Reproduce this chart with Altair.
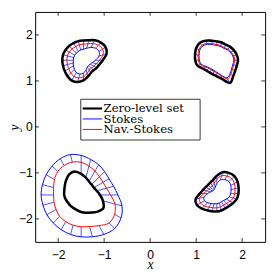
import altair as alt
import numpy as np
import pandas as pd

# ---------------- data ----------------
ANGLES_DEG = [0, 15, 30, 45, 60, 75, 90, 105, 120, 135, 150, 165,
              180, 195, 210, 225, 240, 255, 270, 285, 300, 315, 330, 345]
TICK_VALUES = [-2, -1, 0, 1, 2]
LEGEND_LABELS = ["Zero-level set", "Stokes", "Nav.-Stokes"]
LEGEND_COLORS = ["#000000", "#0000ff", "#ff0000"]
LEGEND_WIDTHS = [2.2, 1.0, 1.0]

# top-left drop (centre, radii at ANGLES_DEG)
TL_CENTER = [-1.45, 1.45]
TL_ZERO = [0.42, 0.52, 0.56, 0.54, 0.50, 0.45, 0.43, 0.43, 0.43, 0.44, 0.45, 0.46,
           0.46, 0.46, 0.47, 0.49, 0.51, 0.49, 0.44, 0.37, 0.32, 0.31, 0.33, 0.36]
TL_NS = [0.35, 0.44, 0.48, 0.46, 0.42, 0.37, 0.35, 0.35, 0.34, 0.35, 0.36, 0.36,
         0.36, 0.36, 0.37, 0.39, 0.41, 0.40, 0.36, 0.30, 0.25, 0.24, 0.26, 0.29]
TL_STOKES = [0.26, 0.35, 0.39, 0.37, 0.32, 0.27, 0.24, 0.23, 0.22, 0.22, 0.22, 0.22,
             0.22, 0.23, 0.25, 0.28, 0.31, 0.31, 0.28, 0.22, 0.17, 0.16, 0.17, 0.20]

# top-right drop
TR_CENTER = [1.45, 1.45]
TR_ZERO = [0.46, 0.45, 0.43, 0.41, 0.39, 0.40, 0.41, 0.44, 0.49, 0.53, 0.52, 0.49,
           0.47, 0.44, 0.36, 0.32, 0.31, 0.32, 0.35, 0.42, 0.57, 0.50, 0.46, 0.45]
TR_NS = [0.39, 0.38, 0.36, 0.34, 0.32, 0.33, 0.34, 0.37, 0.42, 0.46, 0.45, 0.42,
         0.40, 0.37, 0.29, 0.25, 0.24, 0.25, 0.28, 0.35, 0.47, 0.43, 0.39, 0.38]
TR_STOKES = [0.37, 0.36, 0.34, 0.32, 0.30, 0.31, 0.32, 0.35, 0.40, 0.44, 0.43, 0.40,
             0.38, 0.35, 0.27, 0.23, 0.22, 0.23, 0.26, 0.33, 0.44, 0.41, 0.37, 0.36]

# bottom-right drop
BR_CENTER = [1.45, -1.45]
BR_ZERO = [0.47, 0.49, 0.52, 0.54, 0.52, 0.48, 0.39, 0.31, 0.28, 0.27, 0.28, 0.31,
           0.37, 0.48, 0.50, 0.46, 0.42, 0.40, 0.39, 0.38, 0.37, 0.38, 0.41, 0.45]
BR_NS = [0.39, 0.41, 0.44, 0.46, 0.44, 0.40, 0.31, 0.23, 0.20, 0.19, 0.20, 0.23,
         0.29, 0.39, 0.41, 0.38, 0.34, 0.32, 0.31, 0.30, 0.29, 0.30, 0.33, 0.37]
BR_STOKES = [0.30, 0.32, 0.35, 0.37, 0.35, 0.31, 0.22, 0.14, 0.11, 0.10, 0.11, 0.14,
             0.20, 0.29, 0.31, 0.28, 0.25, 0.23, 0.22, 0.21, 0.20, 0.21, 0.24, 0.28]

# bottom-left drop
BL_CENTER = [-1.50, -1.48]
BL_ZERO = [0.41, 0.35, 0.32, 0.32, 0.34, 0.39, 0.46, 0.53, 0.52, 0.46, 0.41, 0.38,
           0.37, 0.35, 0.33, 0.33, 0.33, 0.34, 0.37, 0.40, 0.44, 0.51, 0.56, 0.49]
BL_NS = [0.64, 0.57, 0.55, 0.56, 0.60, 0.65, 0.71, 0.74, 0.74, 0.72, 0.67, 0.62,
         0.60, 0.61, 0.63, 0.66, 0.67, 0.68, 0.69, 0.71, 0.77, 0.86, 0.84, 0.76]
BL_STOKES = [0.80, 0.73, 0.70, 0.72, 0.76, 0.80, 0.86, 0.91, 0.91, 0.89, 0.88, 0.87,
             0.87, 0.86, 0.86, 0.86, 0.87, 0.89, 0.91, 0.94, 0.99, 1.03, 1.00, 0.92]
# inner end of the connecting lines of the bottom-left drop
BL_SPOKE_IN = [0.41, 0.35, 0.32, 0.32, 0.34, 0.39, 0.46, 0.74, 0.74, 0.72, 0.67, 0.62,
               0.60, 0.61, 0.63, 0.66, 0.67, 0.68, 0.69, 0.71, 0.77, 0.86, 0.84, 0.49]

SHAPES = [
    ("TL", TL_CENTER, TL_ZERO, TL_STOKES, TL_NS, TL_ZERO, TL_STOKES),
    ("TR", TR_CENTER, TR_ZERO, TR_STOKES, TR_NS, TR_ZERO, TR_STOKES),
    ("BR", BR_CENTER, BR_ZERO, BR_STOKES, BR_NS, BR_ZERO, BR_STOKES),
    ("BL", BL_CENTER, BL_ZERO, BL_STOKES, BL_NS, BL_SPOKE_IN, BL_STOKES),
]

# ---------------- tables ----------------
rad = np.radians(ANGLES_DEG)
curve_rows, spoke_rows = [], []
for name, c, zero, stokes, ns, sp_a, sp_b in SHAPES:
    for cname, radii in (("zero", zero), ("stokes", stokes), ("ns", ns)):
        for i, (a, r) in enumerate(zip(rad, radii)):
            curve_rows.append(dict(shape=name, curve=cname, order=i,
                                   x=c[0] + r * np.cos(a), y=c[1] + r * np.sin(a)))
    for a, r1, r2 in zip(rad, sp_a, sp_b):
        spoke_rows.append(dict(shape=name,
                               x=c[0] + r1 * np.cos(a), y=c[1] + r1 * np.sin(a),
                               x2=c[0] + r2 * np.cos(a), y2=c[1] + r2 * np.sin(a)))
curves = pd.DataFrame(curve_rows)
spokes = pd.DataFrame(spoke_rows)

W, H = 237, 237
XS = alt.Scale(domain=[-2.5, 2.5], nice=False, zero=False)
YS = alt.Scale(domain=[-2.5, 2.5], nice=False, zero=False)
XA = alt.Axis(values=TICK_VALUES, ticks=False, domain=False, grid=False,
              labelFont="Liberation Sans", labelFontSize=12.5, labelColor="black",
              labelPadding=7, title="x", titleFont="Liberation Serif",
              titleFontStyle="italic", titleFontWeight="normal", titleFontSize=14,
              titleColor="black", titleX=W / 2, titleY=27, titleBaseline="alphabetic")
YA = alt.Axis(values=TICK_VALUES, ticks=False, domain=False, grid=False,
              labelFont="Liberation Sans", labelFontSize=12.5, labelColor="black",
              labelPadding=3, title="y", titleFont="Liberation Serif",
              titleFontStyle="italic", titleFontWeight="normal", titleFontSize=14,
              titleColor="black", titleX=-17, titleY=H / 2, titleAngle=270,
              titleBaseline="alphabetic", titleAlign="center")


def X(f):
    return alt.X(f, type="quantitative", scale=XS, axis=XA)


def Y(f):
    return alt.Y(f, type="quantitative", scale=YS, axis=YA)


spoke_layer = alt.Chart(spokes).mark_rule(color="#0000ff", strokeWidth=0.7).encode(
    x=X("x"), y=Y("y"), x2="x2", y2="y2")


def curve_layer(cname, color, width):
    return alt.Chart(curves[curves.curve == cname]).mark_line(
        interpolate="cardinal-closed", color=color, strokeWidth=width).encode(
        x=X("x"), y=Y("y"), detail="shape:N", order="order:Q")


ticks_x = pd.DataFrame({"x": TICK_VALUES})
ticks_y = pd.DataFrame({"y": TICK_VALUES})
tick_style = dict(color="black", strokeWidth=0.8)
tick_layers = [
    alt.Chart(ticks_x).mark_rule(**tick_style).encode(x=X("x"), y=alt.value(H), y2=alt.value(H - 4)),
    alt.Chart(ticks_x).mark_rule(**tick_style).encode(x=X("x"), y=alt.value(0), y2=alt.value(4)),
    alt.Chart(ticks_y).mark_rule(**tick_style).encode(y=Y("y"), x=alt.value(0), x2=alt.value(4)),
    alt.Chart(ticks_y).mark_rule(**tick_style).encode(y=Y("y"), x=alt.value(W), x2=alt.value(W - 4)),
]

one = pd.DataFrame({"k": [0]})
legend_layers = [
    alt.Chart(one).mark_rect(fill="white", stroke="black", strokeWidth=0.8).encode(
        x=alt.value(47), x2=alt.value(170), y=alt.value(90), y2=alt.value(132))
]
for i, (lab, col, w) in enumerate(zip(LEGEND_LABELS, LEGEND_COLORS, LEGEND_WIDTHS)):
    yy = 99.5 + i * 10.8
    legend_layers.append(alt.Chart(one).mark_rule(color=col, strokeWidth=w).encode(
        x=alt.value(49), x2=alt.value(69), y=alt.value(yy)))
    legend_layers.append(alt.Chart(one).mark_text(
        align="left", baseline="middle", font="DejaVu Serif", fontSize=12,
        color="black", text=lab).encode(x=alt.value(70.5), y=alt.value(yy)))

chart = alt.layer(
    spoke_layer,
    curve_layer("stokes", "#0000ff", 1.0),
    curve_layer("ns", "#ff0000", 1.0),
    curve_layer("zero", "#000000", 2.6),
    *tick_layers,
    *legend_layers,
).properties(
    width=W, height=H,
    padding={"left": 28, "top": 0, "right": 4, "bottom": 28},
    autosize=alt.AutoSizeParams(type="none"),
).configure_view(stroke="black", strokeWidth=1)

chart.save("out.html", embed_options={"renderer": "svg", "actions": False})
